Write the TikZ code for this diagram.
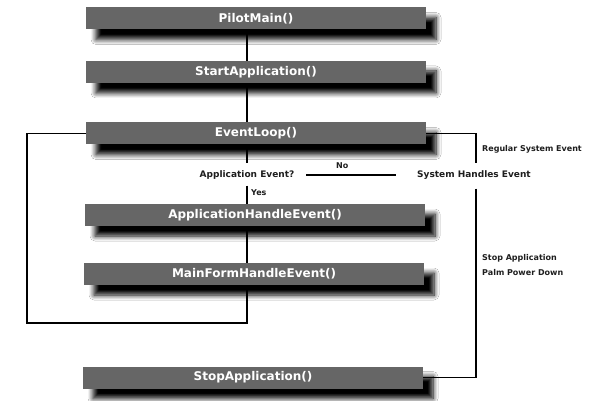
\documentclass[tikz,border=0pt]{standalone}
\usepackage{fontspec}
\setmainfont{DejaVu Sans}
\usetikzlibrary{shadows.blur,calc}
\definecolor{boxgrey}{HTML}{666666}
\definecolor{ink}{HTML}{1E1E1E}
\begin{document}
\begin{tikzpicture}[x=1pt,y=-1pt,
  box/.style={fill=boxgrey, minimum width=340pt, minimum height=22pt, inner sep=0pt,
    text=white, font=\bfseries\fontsize{12}{14}\selectfont,
    blur shadow={shadow xshift=10pt, shadow yshift=-10pt, shadow blur radius=5pt,
      shadow blur steps=8, shadow opacity=100}},
  lbl/.style={font=\bfseries\fontsize{9}{11}\selectfont, text=ink, inner sep=0pt},
  small/.style={font=\bfseries\fontsize{8}{9}\selectfont, text=ink, inner sep=0pt, anchor=west},
  conn/.style={line width=1.2pt, draw=black}]
\useasboundingbox (0,0) rectangle (592,401);
\fill[white] (0,0) rectangle (592,401);

\node[box] (pm) at (256,18.5) {PilotMain()};
\node[box] (sa) at (256,72) {StartApplication()};
\node[box] (el) at (256,133.5) {EventLoop()};
\node[lbl] (ae) at (247,175) {Application Event?};
\node[lbl, anchor=west] (she) at (417,175) {System Handles Event};
\node[box] (ahe) at (255,215) {ApplicationHandleEvent()};
\node[box] (mf) at (254,274) {MainFormHandleEvent()};
\node[box] (stop) at (253,377.5) {StopApplication()};

\node[small] (no) at (336,166) {No};
\node[small] (yes) at (251,193) {Yes};
\node[small] (rse) at (482,149) {Regular System Event};
\node[small] (stp) at (482,258) {Stop Application};
\node[small] (ppd) at (482,273) {Palm Power Down};

\coordinate (sp) at (247,0);
\coordinate (rx) at (476,0);
\coordinate (lb) at (27,323);

\draw[conn] (pm.south -| sp) -- (sa.north -| sp);
\draw[conn] (sa.south -| sp) -- (el.north -| sp);
\draw[conn, shorten >=7pt] (el.south -| sp) -- (ae.north -| sp);
\draw[conn, shorten <=6pt] (ae.south -| sp) -- (ahe.north -| sp);
\draw[conn] (ahe.south -| sp) -- (mf.north -| sp);
\draw[conn] (mf.south -| sp) |- (lb) |- (el.west);
\draw[conn, shorten <=12pt, shorten >=21pt] (ae.east) -- (she.west);
\draw[conn, shorten >=7pt] (el.east) -| (she.north -| rx);
\draw[conn, shorten <=9pt] (she.south -| rx) |- (stop.east);
\end{tikzpicture}
\end{document}
